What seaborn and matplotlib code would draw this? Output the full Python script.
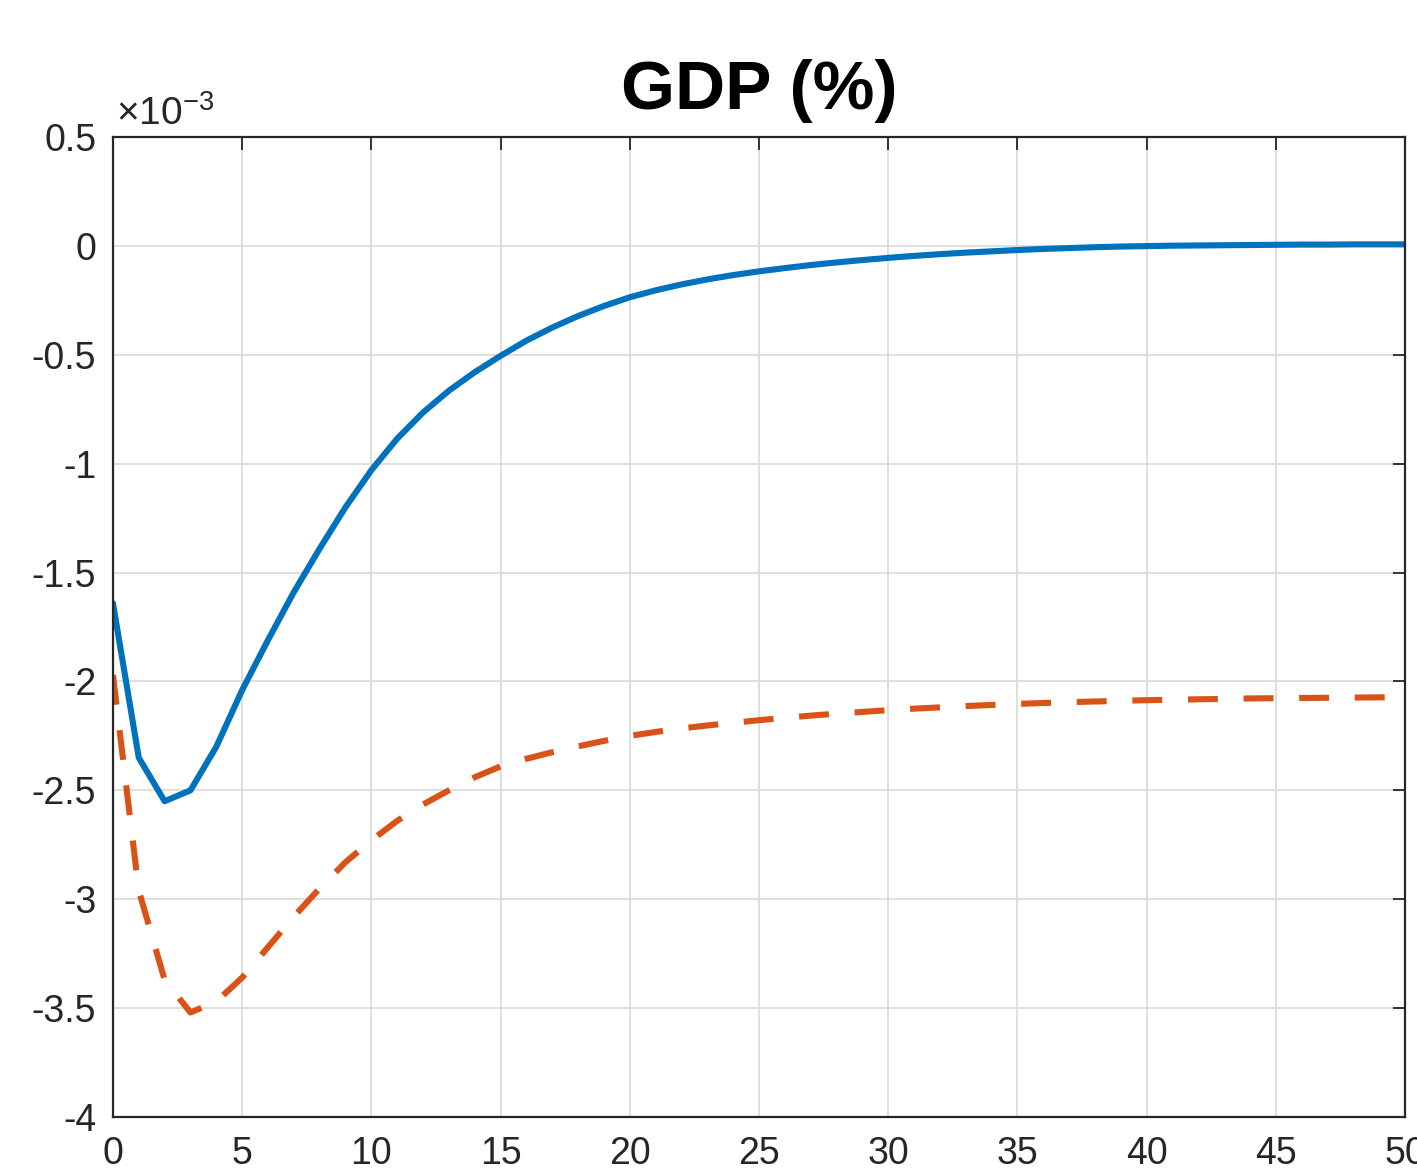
import numpy as np
import pandas as pd
import matplotlib
matplotlib.use("Agg")
import matplotlib.pyplot as plt
from matplotlib.ticker import FuncFormatter
import seaborn as sns

# values, in units of 1e-3
periods = list(range(51))
gdp_blue = [
    -1.64, -2.35, -2.55, -2.50, -2.30, -2.04, -1.81, -1.59, -1.39, -1.20,
    -1.03, -0.885, -0.765, -0.665, -0.58, -0.505, -0.435, -0.375, -0.322, -0.276,
    -0.236, -0.204, -0.177, -0.154, -0.134, -0.117, -0.102, -0.088, -0.076, -0.065,
    -0.055, -0.046, -0.038, -0.031, -0.025, -0.019, -0.014, -0.010, -0.006, -0.003,
    -0.001, 0.001, 0.002, 0.003, 0.004, 0.005, 0.006, 0.006, 0.007, 0.007,
    0.007,
]
gdp_orange = [
    -1.97, -2.96, -3.37, -3.52, -3.47, -3.36, -3.22, -3.08, -2.95, -2.83,
    -2.73, -2.64, -2.565, -2.50, -2.44, -2.39, -2.355, -2.325, -2.298, -2.273,
    -2.25, -2.232, -2.216, -2.202, -2.19, -2.178, -2.167, -2.157, -2.148, -2.14,
    -2.132, -2.125, -2.119, -2.113, -2.108, -2.103, -2.099, -2.095, -2.092, -2.089,
    -2.086, -2.084, -2.082, -2.080, -2.078, -2.077, -2.076, -2.075, -2.074, -2.073,
    -2.072,
]
x_ticks = list(range(0, 51, 5))
y_ticks = [-4, -3.5, -3, -2.5, -2, -1.5, -1, -0.5, 0, 0.5]

BLUE = "#0072BD"
ORANGE = "#D95319"
AX_COLOR = "#262626"

sns.set_style("white")
plt.rcParams["font.family"] = ["Liberation Sans", "DejaVu Sans"]
plt.rcParams["axes.unicode_minus"] = False
plt.rcParams["mathtext.default"] = "regular"

df = pd.DataFrame({"t": periods, "blue": gdp_blue, "orange": gdp_orange})

fig = plt.figure(figsize=(14.17, 11.70), dpi=100)
ax = fig.add_axes([0.0797, 0.0453, 0.9118, 0.8376])

sns.lineplot(data=df, x="t", y="blue", ax=ax, color=BLUE, linewidth=4.4)
sns.lineplot(data=df, x="t", y="orange", ax=ax, color=ORANGE, linewidth=4.4,
             linestyle=(0, (4.9, 4.2)))

ax.set_xlim(0, 50)
ax.set_ylim(-4, 0.5)
ax.set_xticks(x_ticks)
ax.set_yticks(y_ticks)
ax.yaxis.set_major_formatter(FuncFormatter(lambda v, p: f"{v:g}"))
ax.set_xlabel("")
ax.set_ylabel("")

ax.grid(True, color="#dcdcdc", linewidth=1.3)
ax.set_axisbelow(True)
for s in ax.spines.values():
    s.set_color(AX_COLOR)
    s.set_linewidth(1.6)
ax.tick_params(axis="both", which="major", direction="in", length=9, width=1.3,
               colors=AX_COLOR, labelsize=27, top=True, right=True)
ax.tick_params(axis="y", pad=12)
ax.tick_params(axis="x", pad=14)

ax.set_title("GDP (%)", fontsize=50, fontweight="bold", pad=20, color="black")
ax.text(0.002, 1.012, r"$\times10^{-3}$", transform=ax.transAxes,
        fontsize=28, color=AX_COLOR, ha="left", va="baseline")

fig.savefig("out.png", dpi=100)
